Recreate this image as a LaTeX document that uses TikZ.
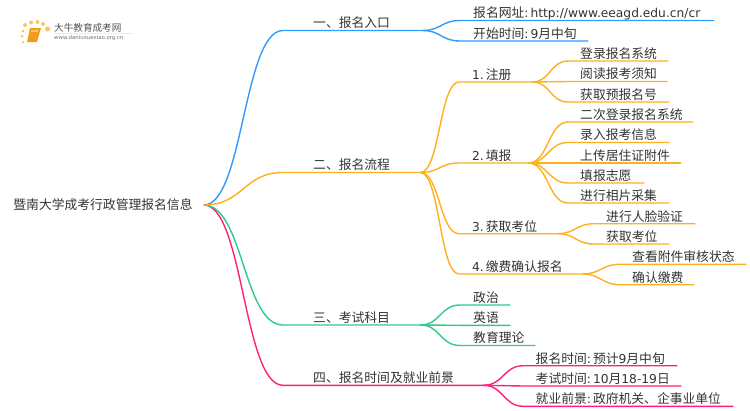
\documentclass[tikz,border=0pt]{standalone}
\usepackage{fontspec}
\setmainfont{Noto Sans CJK SC}
\newfontfamily\latfont{DejaVu Sans}
\newcommand{\lat}{\latfont\fontsize{12.25}{14}\selectfont}
\newcommand{\gap}{\kern2pt\relax}
\usetikzlibrary{calc}
\definecolor{bluebranch}{HTML}{2F9BFF}
\definecolor{orangebranch}{HTML}{FFB01F}
\definecolor{greenbranch}{HTML}{2ECC8B}
\definecolor{pinkbranch}{HTML}{FF1F7C}
\definecolor{inktext}{HTML}{333333}
\definecolor{bookorange}{HTML}{F59A1B}
\definecolor{dotyellow}{HTML}{FBC75A}
\tikzset{
  textbox/.style={anchor=south west,inner ysep=0.5pt,text height=11pt,text depth=2pt,
    align=left,text=inktext,font=\fontsize{12.8}{14}\selectfont},
  topicbox/.style={textbox,inner xsep=30pt,text width=#1pt},
  twigbox/.style={textbox,inner xsep=13pt,text width=#1pt},
  leafbox/.style={textbox,inner xsep=12pt,text width=#1pt},
  link/.style={to path={.. controls ($(\tikztostart)!0.5!(\tikztotarget|-\tikztostart)$)
    and ($(\tikztotarget)!0.5!(\tikztostart|-\tikztotarget)$) .. (\tikztotarget)}},
  branch/.style={line width=1.4pt,#1},
  logodot/.style={circle,fill=dotyellow,inner sep=0pt,minimum size=#1pt}
}
\begin{document}
\begin{tikzpicture}[x=1pt,y=-1pt]
    \useasboundingbox (0,0) rectangle (750,410);

    % logo
    \node[logodot=4] (dota) at (25,25) {};
    \node[logodot=4] (dotb) at (31,22.5) {};
    \node[logodot=4] (dotc) at (37.5,22) {};
    \node[logodot=4] (dotd) at (43,24) {};
    \node[logodot=5] (dote) at (47.5,29) {};
    \node[logodot=3] (dotf) at (23,31) {};
    \node[logodot=3] (dotg) at (22,36) {};
    \node[logodot=2.5] (doth) at (23,42) {};
    \fill[bookorange] (30,28) -- (41,28) -- (37,42) -- (27,42) -- cycle;
    \fill[dotyellow] (31.5,30) -- (38.5,30) -- (37.8,32) -- (31,32) -- cycle;
    \node[text=inktext!85,font=\fontsize{9.6}{11}\selectfont,anchor=west,inner sep=0pt] (logoname) at (54,27.5) {大牛教育成考网};
    \node[text=inktext!70,font=\latfont\fontsize{5.4}{6}\selectfont,anchor=west,inner sep=0pt] (logourl) at (54,38.5) {www.daniuxuexiao.org.cn};
    \draw[black!8,line width=0.6pt] (logoname.south west) ++(0,1.5) -- ++(80,0);

    % nodes
    \node[text=inktext,font=\fontsize{12.8}{14}\selectfont,inner xsep=11pt,inner ysep=2pt,text height=11.5pt,text depth=2pt] (root) at (103,205) {暨南大学成考行政管理报名信息};

    \node[topicbox=79] (entry) at (283,30.5) {一、报名入口};
    \node[twigbox=228] (entrya) at (460,20.5) {报名网址{\lat :\gap http://www.eeagd.edu.cn/cr}};
    \node[twigbox=102] (entryb) at (460,41) {开始时间{\lat :\gap 9}月中旬};

    \node[topicbox=77] (flow) at (283,172.5) {二、报名流程};
    \node[twigbox=47] (flowa) at (459,82) {{\lat 1.\gap}注册};
    \node[twigbox=43] (flowb) at (459,163) {{\lat 2.\gap}填报};
    \node[twigbox=72] (flowc) at (459,233.7) {{\lat 3.\gap}获取考位};
    \node[twigbox=97] (flowd) at (459,274) {{\lat 4.\gap}缴费确认报名};

    \node[leafbox=76] (flowaa) at (568,61) {登录报名系统};
    \node[leafbox=75] (flowab) at (568,81.5) {阅读报考须知};
    \node[leafbox=77] (flowac) at (568,102) {获取预报名号};

    \node[leafbox=101] (flowba) at (568,122) {二次登录报名系统};
    \node[leafbox=77] (flowbb) at (568,142.5) {录入报考信息};
    \node[leafbox=89] (flowbc) at (568,163) {上传居住证附件};
    \node[leafbox=52] (flowbd) at (568,183) {填报志愿};
    \node[leafbox=77] (flowbe) at (568,203) {进行相片采集};

    \node[leafbox=77] (flowca) at (594,223.7) {进行人脸验证};
    \node[leafbox=51] (flowcb) at (594,244) {获取考位};

    \node[leafbox=102] (flowda) at (620,264.3) {查看附件审核状态};
    \node[leafbox=50] (flowdb) at (620,284.7) {确认缴费};

    \node[topicbox=77] (subject) at (283,325) {三、考试科目};
    \node[twigbox=24] (subjecta) at (460,305) {政治};
    \node[twigbox=24] (subjectb) at (460,325.3) {英语};
    \node[twigbox=49] (subjectc) at (460,345.5) {教育理论};

    \node[topicbox=140] (outlook) at (283,385.3) {四、报名时间及就业前景};
    \node[leafbox=129.5] (outlooka) at (523.5,365.7) {报名时间{\lat :\gap}预计{\lat 9}月中旬};
    \node[leafbox=133.5] (outlookb) at (523.5,386) {考试时间{\lat :\gap 10}月{\lat \mbox{18-19}}日};
    \node[leafbox=185.5] (outlookc) at (523.5,406.3) {就业前景{\lat :\gap}政府机关、企事业单位};

    % connectors
    \draw[branch=pinkbranch] (root.east) to[link] (outlook.south west) -- (outlook.south east);
    \draw[branch=pinkbranch] (outlook.south east) to[link] (outlooka.south west) -- (outlooka.south east);
    \draw[branch=pinkbranch] (outlook.south east) to[link] (outlookb.south west) -- (outlookb.south east);
    \draw[branch=pinkbranch] (outlook.south east) to[link] (outlookc.south west) -- (outlookc.south east);

    \draw[branch=greenbranch] (root.east) to[link] (subject.south west) -- (subject.south east);
    \draw[branch=greenbranch] (subject.south east) to[link] (subjecta.south west) -- (subjecta.south east);
    \draw[branch=greenbranch] (subject.south east) to[link] (subjectb.south west) -- (subjectb.south east);
    \draw[branch=greenbranch] (subject.south east) to[link] (subjectc.south west) -- (subjectc.south east);

    \draw[branch=bluebranch] (root.east) to[link] (entry.south west) -- (entry.south east);
    \draw[branch=bluebranch] (entry.south east) to[link] (entrya.south west) -- (entrya.south east);
    \draw[branch=bluebranch] (entry.south east) to[link] (entryb.south west) -- (entryb.south east);

    \draw[branch=orangebranch] (root.east) to[link] (flow.south west) -- (flow.south east);
    \draw[branch=orangebranch] (flow.south east) to[link] (flowa.south west) -- (flowa.south east);
    \draw[branch=orangebranch] (flow.south east) to[link] (flowb.south west) -- (flowb.south east);
    \draw[branch=orangebranch] (flow.south east) to[link] (flowc.south west) -- (flowc.south east);
    \draw[branch=orangebranch] (flow.south east) to[link] (flowd.south west) -- (flowd.south east);

    \draw[branch=orangebranch] (flowa.south east) to[link] (flowaa.south west) -- (flowaa.south east);
    \draw[branch=orangebranch] (flowa.south east) to[link] (flowab.south west) -- (flowab.south east);
    \draw[branch=orangebranch] (flowa.south east) to[link] (flowac.south west) -- (flowac.south east);

    \draw[branch=orangebranch] (flowb.south east) to[link] (flowba.south west) -- (flowba.south east);
    \draw[branch=orangebranch] (flowb.south east) to[link] (flowbb.south west) -- (flowbb.south east);
    \draw[branch=orangebranch] (flowb.south east) to[link] (flowbc.south west) -- (flowbc.south east);
    \draw[branch=orangebranch] (flowb.south east) to[link] (flowbd.south west) -- (flowbd.south east);
    \draw[branch=orangebranch] (flowb.south east) to[link] (flowbe.south west) -- (flowbe.south east);

    \draw[branch=orangebranch] (flowc.south east) to[link] (flowca.south west) -- (flowca.south east);
    \draw[branch=orangebranch] (flowc.south east) to[link] (flowcb.south west) -- (flowcb.south east);

    \draw[branch=orangebranch] (flowd.south east) to[link] (flowda.south west) -- (flowda.south east);
    \draw[branch=orangebranch] (flowd.south east) to[link] (flowdb.south west) -- (flowdb.south east);
\end{tikzpicture}
\end{document}
